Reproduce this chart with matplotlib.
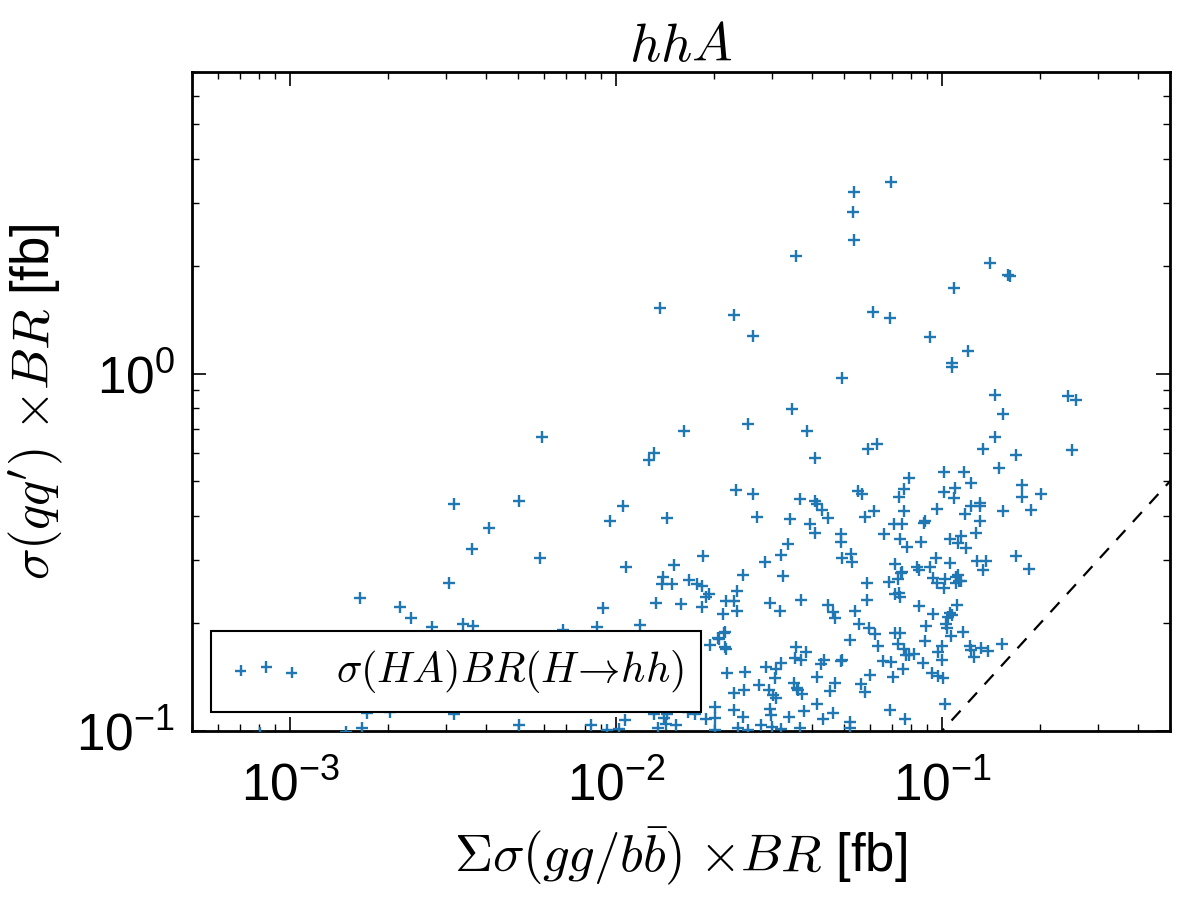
import numpy as np
import matplotlib
matplotlib.use('Agg')
import matplotlib.pyplot as plt

plt.rcParams['font.family'] = ['Liberation Sans', 'DejaVu Sans']
plt.rcParams['mathtext.fontset'] = 'cm'
plt.rcParams['axes.unicode_minus'] = False

# sigma(gg/bb) x BR [fb]  vs  sigma(qq') x BR [fb]
sigma_gg = [
    0.0698, 0.0537, 0.0533, 0.0537, 0.0357, 0.140, 0.159, 0.162, 0.109, 0.01365,
    0.0230, 0.0263, 0.0614, 0.0692, 0.0919, 0.120, 0.107, 0.107, 0.0494, 0.145,
    0.2435, 0.258, 0.0347, 0.154, 0.0254, 0.0162, 0.0386, 0.145, 0.00593, 0.0593,
    0.0632, 0.1336, 0.2505, 0.1686, 0.0408, 0.01262, 0.01308, 0.1496, 0.1014, 0.1168,
    0.0792, 0.1227, 0.0764, 0.1096, 0.176, 0.0233, 0.0263, 0.0553, 0.0568, 0.0738,
    0.1014, 0.109, 0.176, 0.201, 0.0367, 0.0408, 0.0414, 0.0429, 0.0447, 0.0271,
    0.0342, 0.0580, 0.0618, 0.0764, 0.0965, 0.1227, 0.1308, 0.1308, 0.1177, 0.154,
    0.1875, 0.0394, 0.0408, 0.0490, 0.0490, 0.0664, 0.0712, 0.0754, 0.0881, 0.0887,
    0.1308, 0.127, 0.0743, 0.0781, 0.0862, 0.1058, 0.1144, 0.112, 0.1185, 0.0337,
    0.0321, 0.0494, 0.0526, 0.0530, 0.0185, 0.0287, 0.0245, 0.0325, 0.0717, 0.0838,
    0.0850, 0.0919, 0.0959, 0.1058, 0.128, 0.1365, 0.1336, 0.1686, 0.185, 0.01675,
    0.01772, 0.01835, 0.01835, 0.01888, 0.01928, 0.02175, 0.0230, 0.0235, 0.0235, 0.0213,
    0.0216, 0.0207, 0.01942, 0.0216, 0.02175, 0.0297, 0.0319, 0.0369, 0.0589, 0.0589,
    0.0688, 0.0733, 0.0748, 0.0717, 0.0738, 0.0743, 0.0938, 0.0965, 0.1021, 0.1014,
    0.1104, 0.1127, 0.1144, 0.1104, 0.0850, 0.0938, 0.1112, 0.1058, 0.107, 0.1043,
    0.1029, 0.1036, 0.1066, 0.0893, 0.116, 0.0887, 0.100, 0.0972, 0.100, 0.0874,
    0.0931, 0.0972, 0.1007, 0.1021, 0.0447, 0.0463, 0.0470, 0.0541, 0.0556, 0.0597,
    0.0623, 0.0522, 0.0636, 0.0717, 0.0743, 0.0733, 0.0764, 0.0776, 0.0820, 0.0792,
    0.0659, 0.0698, 0.0759, 0.0707, 0.0601, 0.0564, 0.0580, 0.0692, 0.0770, 0.0522,
    0.0522, 0.0357, 0.0383, 0.0354, 0.0369, 0.0426, 0.0435, 0.0490, 0.0494, 0.0414,
    0.0470, 0.0453, 0.0288, 0.0310, 0.0321, 0.0307, 0.0249, 0.0219, 0.0275, 0.0230,
    0.0247, 0.0295, 0.0303, 0.0310, 0.0352, 0.0359, 0.0372, 0.0362, 0.0414, 0.0463,
    0.0377, 0.0432, 0.0340, 0.0297, 0.0299, 0.0245, 0.0230, 0.0201, 0.0201, 0.01888,
    0.01747, 0.0279, 0.0301, 0.0321, 0.0367, 0.0237, 0.0201, 0.0254, 0.02145, 0.02055,
    0.01663, 0.01308, 0.01403, 0.01423, 0.01528, 0.01433, 0.01345, 0.112, 0.1219, 0.1227,
    0.1254, 0.1317, 0.1384, 0.1528, 0.0754, 0.01394, 0.01384, 0.01485, 0.01327, 0.01583,
    0.00164, 0.002175, 0.00235, 0.002727, 0.003395, 0.00364, 0.00688, 0.00874, 0.00912, 0.01185,
    0.003074, 0.003185, 0.00504, 0.0105, 0.00959, 0.01433, 0.004075, 0.003615, 0.00585, 0.01073,
    0.01506, 0.003185, 0.00504, 0.001663, 0.00838, 0.00938, 0.01021, 0.01066, 0.001485, 0.000809,
    0.001722, 0.002027,
]
sigma_qq = [
    3.44, 3.22, 2.835, 2.37, 2.14, 2.04, 1.89, 1.88, 1.74, 1.53,
    1.46, 1.277, 1.49, 1.43, 1.27, 1.16, 1.073, 1.046, 0.975, 0.874,
    0.868, 0.846, 0.798, 0.773, 0.725, 0.693, 0.693, 0.667, 0.667, 0.617,
    0.634, 0.617, 0.610, 0.594, 0.582, 0.575, 0.598, 0.543, 0.532, 0.532,
    0.512, 0.493, 0.477, 0.480, 0.487, 0.471, 0.459, 0.468, 0.459, 0.453,
    0.465, 0.448, 0.453, 0.459, 0.445, 0.439, 0.431, 0.414, 0.394, 0.396,
    0.391, 0.396, 0.412, 0.412, 0.417, 0.425, 0.4335, 0.425, 0.404, 0.412,
    0.414, 0.379, 0.359, 0.355, 0.337, 0.355, 0.379, 0.379, 0.381, 0.386,
    0.386, 0.359, 0.344, 0.3265, 0.337, 0.344, 0.3505, 0.335, 0.3245, 0.333,
    0.310, 0.304, 0.312, 0.2965, 0.308, 0.2965, 0.273, 0.271, 0.293, 0.287,
    0.282, 0.287, 0.304, 0.2945, 0.2985, 0.2985, 0.282, 0.308, 0.2835, 0.264,
    0.257, 0.254, 0.222, 0.237, 0.241, 0.231, 0.231, 0.246, 0.2165, 0.212,
    0.189, 0.1807, 0.174, 0.1717, 0.1694, 0.228, 0.2165, 0.232, 0.259, 0.232,
    0.261, 0.266, 0.276, 0.241, 0.243, 0.237, 0.2675, 0.259, 0.266, 0.251,
    0.269, 0.2624, 0.2624, 0.259, 0.2234, 0.212, 0.225, 0.2136, 0.211, 0.208,
    0.199, 0.194, 0.1843, 0.1965, 0.189, 0.1784, 0.1728, 0.1663, 0.1579, 0.1549,
    0.1452, 0.1424, 0.1406, 0.119, 0.225, 0.2149, 0.207, 0.2165, 0.199, 0.194,
    0.1866, 0.1795, 0.1728, 0.1878, 0.1878, 0.175, 0.1694, 0.1631, 0.1641, 0.1631,
    0.1569, 0.1559, 0.149, 0.1415, 0.1433, 0.1353, 0.1285, 0.1145, 0.108, 0.106,
    0.102, 0.1717, 0.1663, 0.160, 0.1579, 0.1539, 0.1579, 0.1569, 0.1579, 0.1415,
    0.1362, 0.1293, 0.1509, 0.149, 0.1549, 0.1406, 0.1461, 0.1452, 0.1344, 0.1277,
    0.1302, 0.1302, 0.126, 0.1236, 0.1362, 0.1318, 0.1269, 0.1302, 0.119, 0.1123,
    0.1137, 0.108, 0.1094, 0.1152, 0.1108, 0.1094, 0.1145, 0.1167, 0.1087, 0.108,
    0.1116, 0.1039, 0.1026, 0.1013, 0.102, 0.102, 0.1006, 0.1006, 0.1878, 0.1819,
    0.113, 0.1116, 0.1087, 0.1046, 0.1039, 0.1116, 0.102, 0.273, 0.1728, 0.1684,
    0.1609, 0.1706, 0.1673, 0.175, 0.278, 0.269, 0.257, 0.257, 0.228, 0.2263,
    0.2352, 0.222, 0.207, 0.1952, 0.199, 0.1965, 0.1915, 0.1952, 0.2206, 0.1977,
    0.259, 0.431, 0.439, 0.425, 0.386, 0.394, 0.369, 0.322, 0.304, 0.287,
    0.291, 0.1116, 0.1039, 0.102, 0.1039, 0.1006, 0.1013, 0.1073, 0.0994, 0.0987,
    0.1123, 0.113,
]

diagonal = [1e-4, 10.0]

fig = plt.figure(figsize=(12, 9), dpi=100)
ax = fig.add_axes([0.16, 0.188, 0.815, 0.732])

ax.scatter(sigma_gg, sigma_qq, marker='+', s=65, linewidths=1.7,
           color='#1f77b4', label=r'$\sigma(HA)BR(H\!\rightarrow\! hh)$', zorder=3)
ax.plot(diagonal, diagonal, 'k--', lw=1.6, dashes=(6, 5), zorder=2)

ax.set_xscale('log')
ax.set_yscale('log')
ax.set_xlim(5e-4, 0.5)
ax.set_ylim(0.1, 7)

ax.set_title(r'$hhA$', fontsize=39, pad=6)
ax.set_xlabel(r'$\Sigma\sigma(gg/b\bar{b})$ $\times BR$ [fb]', fontsize=38, labelpad=10)
ax.set_ylabel(r"$\sigma(qq^{\prime})$ $\times BR$ [fb]", fontsize=38, labelpad=8)

for s in ax.spines.values():
    s.set_linewidth(2)
ax.tick_params(which='both', direction='in', top=True, right=True)
ax.tick_params(which='major', length=10, width=1.2, labelsize=37, pad=12)
ax.tick_params(which='minor', length=5, width=1)
ax.tick_params(axis='x', which='major', pad=22)

leg = ax.legend(loc='lower left', scatterpoints=3, fontsize=30.5, fancybox=False,
                framealpha=1, borderaxespad=0.45, handletextpad=0.75,
                handlelength=1.8, borderpad=0.4)
leg.get_frame().set_edgecolor('black')
leg.get_frame().set_linewidth(1.5)

plt.savefig('out.png', dpi=100)
